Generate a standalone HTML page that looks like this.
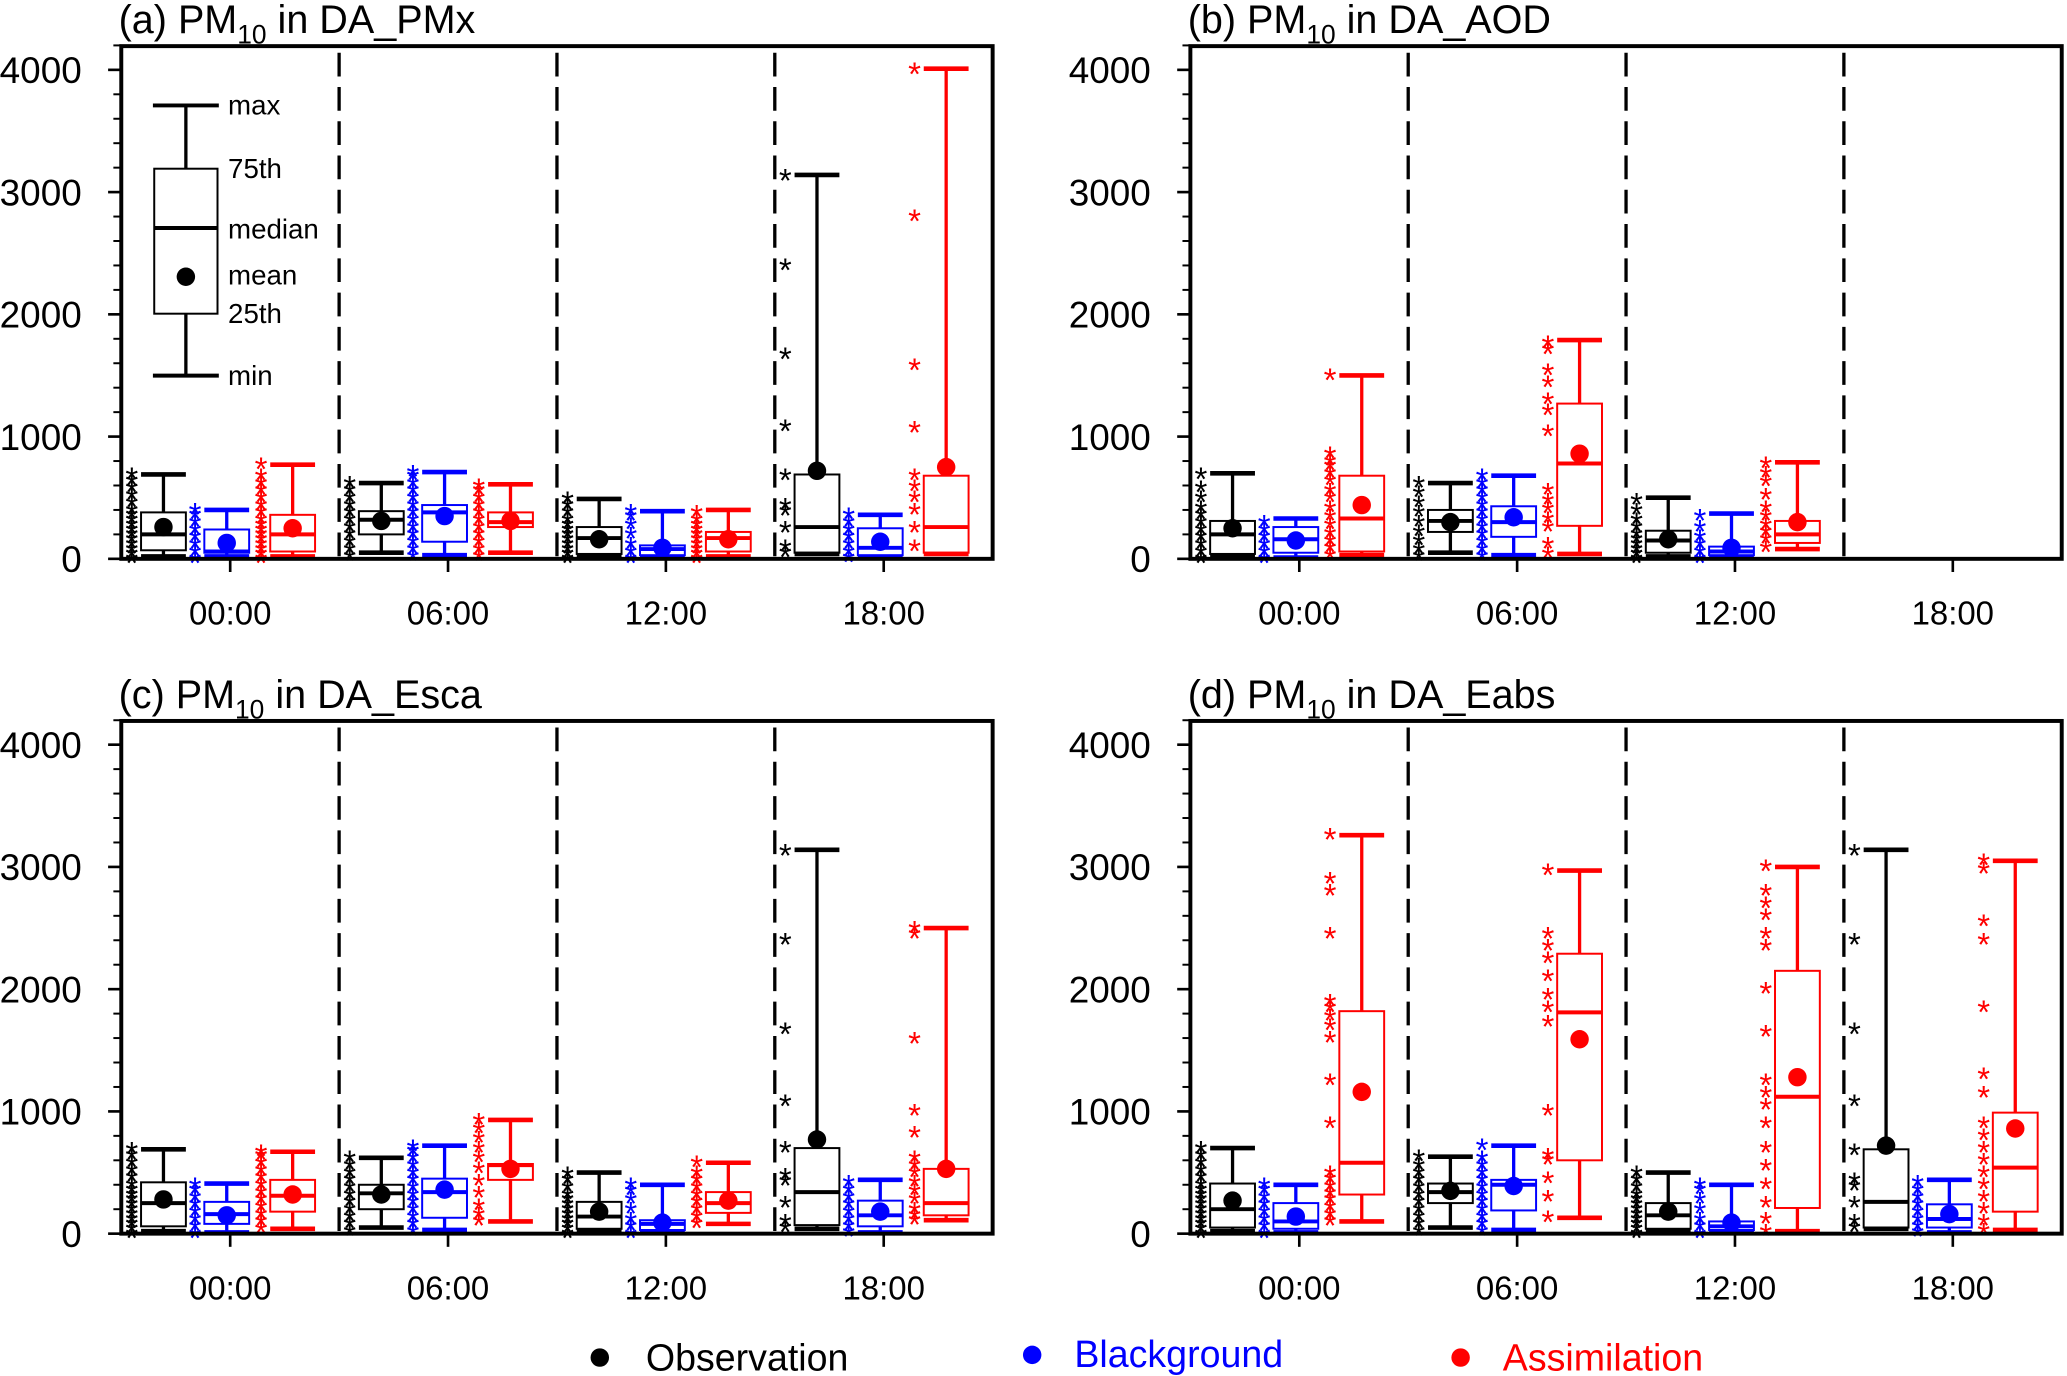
<!DOCTYPE html>
<html><head><meta charset="utf-8"><style>
html,body{margin:0;padding:0;background:#fff}
svg{display:block;font-family:"Liberation Sans",sans-serif}
</style></head><body>
<svg id="fig" xmlns="http://www.w3.org/2000/svg" width="2067" height="1376" viewBox="0 0 1568 1044" preserveAspectRatio="none">
<rect width="1568" height="1044" fill="#fff"/>
<g id="legend">
 <g><circle cx="455" cy="1030" r="7" fill="#000"/><text x="490" y="1040" font-size="28.5" fill="#000">Observation</text></g>
 <g><circle cx="783" cy="1028" r="7" fill="#00f"/><text x="815" y="1037" font-size="28.5" fill="#00f">Blackground</text></g>
 <g><circle cx="1108" cy="1030" r="7" fill="#f00"/><text x="1140" y="1040" font-size="28.5" fill="#f00">Assimilation</text></g>
</g>
</svg>
<script>
const categories = ["00:00","06:00","12:00","18:00"];
const seriesNames = ["Observation","Background","Assimilation"];
const seriesColors = ["#000","#00f","#f00"];
const yTicks = [0,1000,2000,3000,4000];
const panelTitles = ["(a) PM","(b) PM","(c) PM","(d) PM"];
const panelSuffix = [" in DA_PMx"," in DA_AOD"," in DA_Esca"," in DA_Eabs"];
// each box: [min, q1, median, q3, max, mean]; null = no data
const statsA = [
 [[20,70,200,380,690,260],[20,50,60,240,400,130],[20,60,200,360,770,250]],
 [[50,200,320,390,620,310],[30,140,380,440,710,350],[50,260,300,380,610,310]],
 [[20,40,170,260,490,160],[10,30,80,110,390,90],[20,60,170,220,400,160]],
 [[40,50,260,690,3140,720],[10,30,90,250,360,140],[40,50,260,680,4010,750]]];
const statsB = [
 [[20,40,200,310,700,250],[10,50,160,260,330,150],[30,60,330,680,1500,440]],
 [[50,220,310,400,620,300],[30,180,300,430,680,340],[40,270,780,1270,1790,860]],
 [[20,50,150,230,500,160],[10,30,60,100,370,90],[80,130,200,310,790,300]],
 [null,null,null]];
const statsC = [
 [[20,60,250,420,690,280],[10,80,160,260,410,150],[40,180,310,440,670,320]],
 [[50,200,330,400,620,320],[30,130,340,450,720,360],[100,440,560,570,930,530]],
 [[20,40,140,260,500,180],[10,30,80,110,400,90],[80,170,250,340,580,270]],
 [[40,70,340,700,3140,770],[10,60,150,270,440,180],[110,150,250,530,2500,530]]];
const statsD = [
 [[20,50,200,410,700,270],[10,40,100,250,400,140],[100,320,580,1820,3260,1160]],
 [[50,250,340,410,630,350],[30,190,400,440,720,390],[130,600,1810,2290,2970,1590]],
 [[20,40,150,250,500,180],[10,30,60,100,400,90],[20,210,1120,2150,3000,1280]],
 [[40,50,260,690,3140,720],[10,50,120,240,440,160],[30,180,540,990,3050,860]]];
// outlier values (asterisks)
const outA = [
 [[0,40,80,120,160,200,240,280,320,360,400,460,520,580,640,690],[0,60,120,180,240,300,360,400],[0,40,80,120,160,200,240,280,320,380,440,500,560,620,680,770]],
 [[20,80,140,200,260,320,380,440,500,560,620],[20,80,140,200,260,320,380,440,500,560,620,680,710],[20,80,140,200,260,320,380,440,500,560,600]],
 [[0,40,80,120,160,200,240,280,320,380,440,490],[0,60,120,200,280,350,390],[0,40,80,120,160,200,240,280,320,380]],
 [[3130,2400,1670,1080,680,440,390,250,100,50],[10,60,120,180,240,300,360],[4000,2800,1580,1070,680,590,500,400,250,100]]];
const outB = [
 [[0,60,120,180,240,300,360,420,500,580,690],[0,60,120,180,240,300],[30,90,150,210,280,350,420,500,560,640,700,760,800,860,1500]],
 [[20,80,150,220,300,380,460,540,620],[20,80,140,200,260,320,380,440,500,560,620,680],[40,120,260,330,410,480,560,1040,1210,1300,1440,1540,1710,1770]],
 [[0,40,80,120,160,200,260,320,400,480],[0,60,120,180,260,350],[90,160,220,280,350,420,520,630,700,780]],
 [[],[],[]]];
const outC = [
 [[0,40,80,120,160,200,240,280,320,360,400,460,520,580,640,690],[0,60,120,180,240,300,360,400],[40,100,160,220,280,340,400,460,520,580,640,670]],
 [[20,80,140,200,260,320,380,440,500,560,620],[20,80,140,200,260,320,380,440,500,560,620,680,710],[100,160,230,330,430,530,620,700,780,860,930]],
 [[0,40,80,120,160,200,240,280,320,380,440,490],[0,60,120,200,280,350,400],[80,140,200,260,320,380,440,500,580]],
 [[3130,2400,1670,1080,700,480,430,250,100,50],[10,60,120,180,240,300,360,420],[2500,2450,1590,1000,820,620,560,500,420,350,280,200,150,110]]];
const outD = [
 [[0,40,80,120,160,200,240,280,320,360,400,460,520,580,640,700],[0,60,120,180,240,300,360,400],[100,160,220,280,330,390,450,500,900,1250,1600,1700,1780,1850,1900,2450,2800,2900,3260]],
 [[20,80,140,200,260,320,380,440,500,560,630],[20,80,140,200,260,320,380,440,500,560,620,720],[130,300,450,600,640,1000,1730,1850,1950,2100,2250,2350,2450,2970]],
 [[0,40,80,120,160,200,240,280,320,380,440,500],[0,60,120,200,280,360,400],[20,120,250,400,550,700,900,1050,1150,1250,1650,2000,2350,2450,2600,2700,2800,3000]],
 [[3130,2400,1670,1080,680,440,390,250,100,50],[10,60,120,180,240,300,360,420],[3050,2980,2550,2400,1850,1300,1150,900,800,700,600,500,400,300,200,100,30]]];

const panels = [
 {x0:92,x1:753,y0:35,y1:424,stats:statsA,out:outA,legend:true},
 {x0:903,x1:1564,y0:35,y1:424,stats:statsB,out:outB,legend:false},
 {x0:92,x1:753,y0:547,y1:936,stats:statsC,out:outC,legend:false},
 {x0:903,x1:1564,y0:547,y1:936,stats:statsD,out:outD,legend:false}];
const NS="http://www.w3.org/2000/svg";
const svg=document.getElementById('fig');
function el(tag,attrs,parent){const e=document.createElementNS(NS,tag);for(const k in attrs)e.setAttribute(k,attrs[k]);(parent||svg).appendChild(e);return e;}
const names=["a","b","c","d"];
panels.forEach((p,pi)=>{
 const g=el('g',{});
 
 
 const yScale=v=>p.y1-v*(371/4000);
 const gw=(p.x1-p.x0)/4;
 const xPos=(gi,si)=>p.x0+gi*gw+[32,80,130][si];
 const t=el('text',{x:p.x0-2,y:p.y0-10,'font-size':30,fill:'#000'},g);
 
 
 t.textContent=panelTitles[pi];
 const sub=el('tspan',{'font-size':20,dy:8},t);sub.textContent='10';
 const rest=el('tspan',{dy:-8},t);rest.textContent=panelSuffix[pi];
 for(let v=0;v<=4200;v+=200){
  const y=yScale(v);const major=v%1000===0;
  el('line',{x1:p.x0-(major?10:6),x2:p.x0,y1:y,y2:y,stroke:'#000','stroke-width':major?2:1.5},g);
 }
 yTicks.forEach(v=>{
  const tl=el('text',{x:p.x0-30,y:yScale(v)+10,'font-size':28,'text-anchor':'end',fill:'#000'},g);
  
  
  tl.textContent=v;
 });
 for(let i=1;i<4;i++){const x=p.x0+i*gw;
  el('line',{x1:x,x2:x,y1:p.y0+5,y2:p.y1,stroke:'#000','stroke-width':2.5,'stroke-dasharray':'18,8'},g);}
 categories.forEach((c,gi)=>{
  const x=p.x0+gi*gw+gw/2;
  el('line',{x1:x,x2:x,y1:p.y1,y2:p.y1+10,stroke:'#000','stroke-width':2},g);
  const xl=el('text',{x:x,y:p.y1+50,'font-size':25,'text-anchor':'middle',fill:'#000'},g);
  
  
  xl.textContent=c;
 });
 p.stats.forEach((grp,gi)=>grp.forEach((s,si)=>{
  const col=seriesColors[si];const cx=xPos(gi,si);
  (p.out[gi][si]||[]).forEach(v=>{
   const st=el('text',{x:cx-24,y:yScale(v)+12,'font-size':25,'text-anchor':'middle',fill:col},g);
   
   
   st.textContent='*';
  });
  if(!s)return;
  const b=el('g',{},g);
  
  
  const hw=17;
  el('line',{x1:cx,x2:cx,y1:yScale(s[0]),y2:yScale(s[1]),stroke:col,'stroke-width':2.5},b);
  el('line',{x1:cx,x2:cx,y1:yScale(s[3]),y2:yScale(s[4]),stroke:col,'stroke-width':2.5},b);
  el('line',{x1:cx-hw,x2:cx+hw,y1:yScale(s[0]),y2:yScale(s[0]),stroke:col,'stroke-width':3.5},b);
  el('line',{x1:cx-hw,x2:cx+hw,y1:yScale(s[4]),y2:yScale(s[4]),stroke:col,'stroke-width':3.5},b);
  el('rect',{x:cx-hw,y:yScale(s[3]),width:2*hw,height:yScale(s[1])-yScale(s[3]),fill:'none',stroke:col,'stroke-width':1.5},b);
  el('line',{x1:cx-hw,x2:cx+hw,y1:yScale(s[2]),y2:yScale(s[2]),stroke:col,'stroke-width':3},b);
  el('circle',{cx:cx,cy:yScale(s[5]),r:7,fill:col},b);
 }));
 el('rect',{x:p.x0,y:p.y0,width:p.x1-p.x0,height:p.y1-p.y0,fill:'none',stroke:'#000','stroke-width':3},g);
 if(p.legend){
  const lg=el('g',{},g);
  
  
  const cx=141;
  el('line',{x1:cx,x2:cx,y1:80,y2:128,stroke:'#000','stroke-width':2.5},lg);
  el('line',{x1:cx,x2:cx,y1:238,y2:285,stroke:'#000','stroke-width':2.5},lg);
  el('line',{x1:116,x2:166,y1:80,y2:80,stroke:'#000','stroke-width':3},lg);
  el('line',{x1:116,x2:166,y1:285,y2:285,stroke:'#000','stroke-width':3},lg);
  el('rect',{x:117,y:128,width:48,height:110,fill:'none',stroke:'#000','stroke-width':1.5},lg);
  el('line',{x1:117,x2:165,y1:173,y2:173,stroke:'#000','stroke-width':3},lg);
  el('circle',{cx:cx,cy:210,r:7,fill:'#000'},lg);
  [["max",87],["75th",135],["median",181],["mean",216],["25th",245],["min",292]].forEach(([s,y])=>{
   const k=el('text',{x:173,y:y,'font-size':21,fill:'#000'},lg);
   
   
   k.textContent=s;
  });
 }
});
</script>
</body></html>
